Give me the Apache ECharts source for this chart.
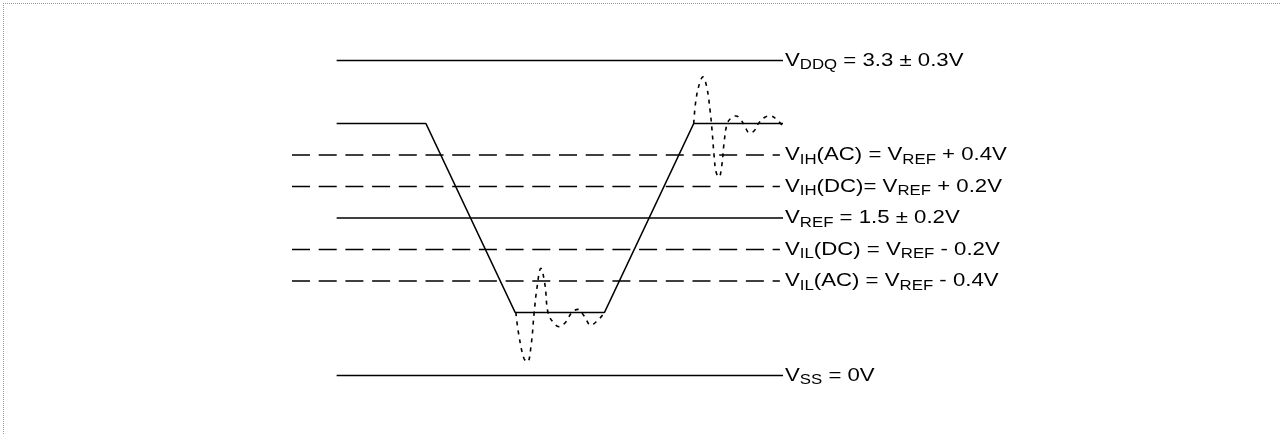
<!DOCTYPE html>
<html>
<head>
<meta charset="utf-8">
<script src="https://cdn.jsdelivr.net/npm/echarts@6/dist/echarts.min.js"></script>
<style>
  html, body { margin: 0; padding: 0; background: #fff; }
  #chart { position: absolute; left: 0; top: 0; width: 1280px; height: 435px; }
  #frame { position: absolute; left: 3px; top: 3px; width: 1400px; height: 600px;
           border-left: 1px dotted #9a9a9a; border-top: 1px dotted #9a9a9a; pointer-events: none; }
</style>
</head>
<body>
<div id="chart"></div>
<div id="frame"></div>
<script>
// ---- data (x: time units, y: schematic level units, VREF = 0) ----
const solidLevelLabels = ['V{s|DDQ} = 3.3 ± 0.3V', 'V{s|REF} = 1.5 ± 0.2V', 'V{s|SS} = 0V'];
const solidLevelValues = [5, 0, -5];

const dashedLevelLabels = ['V{s|IH}(AC) = V{s|REF} + 0.4V', 'V{s|IH}(DC)= V{s|REF} + 0.2V',
                           'V{s|IL}(DC) = V{s|REF} - 0.2V', 'V{s|IL}(AC) = V{s|REF} - 0.4V'];
const dashedLevelValues = [2, 1, -1, -2];

const levelEndX = 20;
const dashedEndX = 19.86;
const solidStartX = 0;
const dashedStartX = -2;

const signalX = [0, 4, 8, 12, 16, 20];
const signalY = [3, 3, -3, -3, 3, 3];

const ringLowX = [8.03, 8.16, 8.39, 8.55, 8.72, 8.85, 8.98, 9.15, 9.33, 9.47, 9.69, 9.96, 10.27, 10.54, 10.81, 11.08, 11.39, 11.70, 11.95];
const ringLowY = [-3.0, -3.7, -4.45, -4.57, -4.0, -3.0, -2.2, -1.6, -2.1, -3.0, -3.3, -3.45, -3.3, -3.0, -2.9, -3.1, -3.4, -3.25, -3.05];

const ringHighX = [16.0, 16.1, 16.28, 16.41, 16.59, 16.73, 16.82, 16.91, 17.0, 17.13, 17.26, 17.35, 17.49, 17.67, 17.89, 18.12, 18.3, 18.5, 18.7, 18.9, 19.19, 19.45, 19.7, 19.95];
const ringHighY = [3.0, 3.75, 4.32, 4.48, 4.13, 3.43, 2.79, 2.0, 1.46, 1.3, 1.68, 2.32, 2.98, 3.17, 3.24, 3.11, 2.89, 2.7, 2.76, 3.0, 3.2, 3.24, 3.14, 2.95];

// ---- build options ----
const zip = (xs, ys) => xs.map((x, i) => [x, ys[i]]);
const FONT = '"Liberation Sans", Arial, Helvetica, sans-serif';

function levelSeries(y, startX, endX, dashed) {
  return {
    type: 'line',
    data: [[startX, y], [endX, y]],
    symbol: 'none',
    silent: true,
    clip: false,
    lineStyle: { color: '#000', width: 1.6, type: dashed ? [18, 8.7] : 'solid' }
  };
}

const series = [];
solidLevelValues.forEach(v => series.push(levelSeries(v, solidStartX, levelEndX, false)));
dashedLevelValues.forEach(v => series.push(levelSeries(v, dashedStartX, dashedEndX, true)));
series.push({
  type: 'line', data: zip(signalX, signalY), symbol: 'none', silent: true, clip: false,
  lineStyle: { color: '#000', width: 1.6 }
});
series.push({
  type: 'line', data: zip(ringLowX, ringLowY), symbol: 'none', silent: true, clip: false, smooth: 0.4,
  lineStyle: { color: '#000', width: 1.6, type: [4, 5] }
});
series.push({
  type: 'line', data: zip(ringHighX, ringHighY), symbol: 'none', silent: true, clip: false, smooth: 0.4,
  lineStyle: { color: '#000', width: 1.6, type: [4, 5] }
});

const chart = echarts.init(document.getElementById('chart'), null, { renderer: 'canvas' });
chart.setOption({
  animation: false,
  backgroundColor: '#fff',
  grid: { left: 292, right: 497, top: 29, bottom: 28 },
  xAxis: { type: 'value', min: -2, max: 20, show: false },
  yAxis: { type: 'value', min: -6, max: 6, show: false },
  series: series
});

// level labels, anchored at each line's end through the chart's scales
const allLabels = solidLevelLabels.concat(dashedLevelLabels);
const allValues = solidLevelValues.concat(dashedLevelValues);
const graphics = allLabels.map((text, i) => {
  const p = chart.convertToPixel({ gridIndex: 0 }, [levelEndX, allValues[i]]);
  return {
    type: 'text',
    x: p[0] + 2,
    y: p[1],
    scaleX: 1.2,
    silent: true,
    style: {
      text: text,
      fill: '#000',
      fontFamily: FONT,
      fontSize: 18.5,
      lineHeight: 24,
      align: 'left',
      verticalAlign: 'middle',
      rich: {
        s: { fontSize: 14, lineHeight: 14, verticalAlign: 'bottom', fill: '#000', fontFamily: FONT }
      }
    }
  };
});
chart.setOption({ graphic: graphics });
</script>
</body>
</html>
